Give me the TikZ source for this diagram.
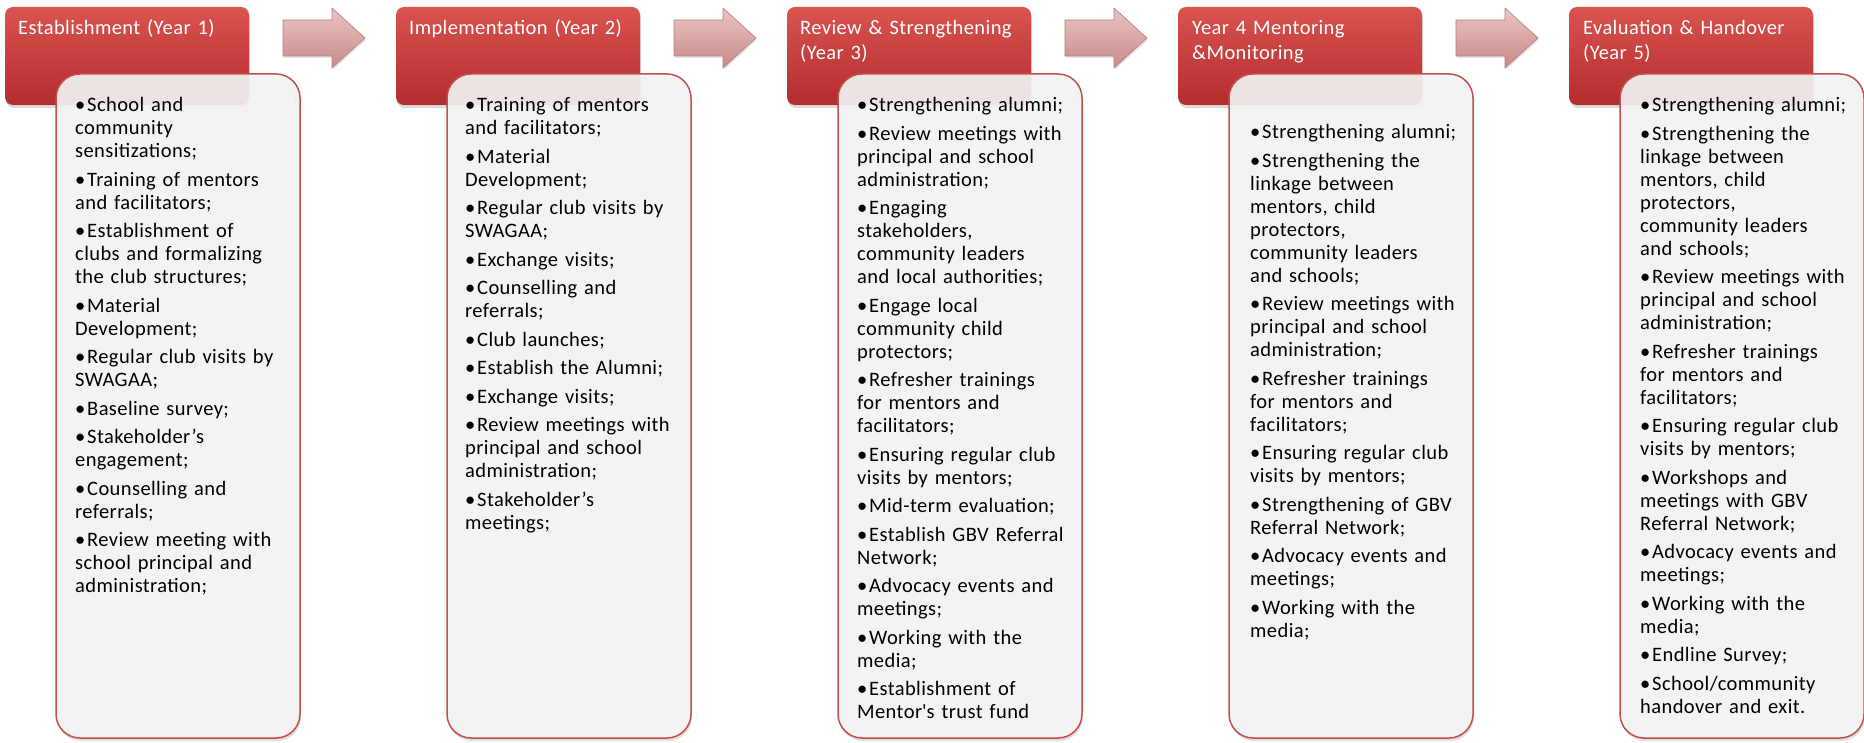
\documentclass[tikz,border=0pt]{standalone}
\usepackage{fontspec}
\setmainfont{Carlito}[LetterSpace=2.0]
\usetikzlibrary{positioning,shadows}

\definecolor{hdtop}{HTML}{D9534F}
\definecolor{hdbot}{HTML}{B32D2F}
\definecolor{cardfill}{HTML}{F5F5F5}
\definecolor{cardline}{HTML}{C0504D}
\definecolor{arrtop}{HTML}{EBC4C4}
\definecolor{arrbot}{HTML}{C88A8A}
\definecolor{arrline}{HTML}{B77B7B}

\newcommand{\itemgap}{5.5pt}
\newcommand{\itm}[1]{\makebox[12pt][l]{\textbullet}\hangindent=12pt\hangafter=1 #1\setlength{\parskip}{\itemgap}\par}

\tikzset{
  header/.style={anchor=north west, minimum width=244pt, minimum height=98pt, outer sep=0pt,
    rounded corners=8pt, top color=hdtop, bottom color=hdbot,
    drop shadow={shadow xshift=1pt, shadow yshift=-3pt, opacity=0.3}},
  card/.style={anchor=north west, minimum width=244pt, minimum height=664pt, outer sep=0pt,
    rounded corners=24pt, draw=cardline, line width=1.5pt, fill=cardfill, fill opacity=0.9,
    drop shadow={shadow xshift=1pt, shadow yshift=-3pt, opacity=0.25}},
  headtext/.style={anchor=base west, inner sep=0pt, text width=228pt, text=white,
    font=\fontsize{20.5}{24.5}\selectfont},
  list/.style={anchor=base west, inner sep=0pt, text width=236pt,
    font=\fontsize{20.5}{23}\selectfont},
  blockarrow/.style={top color=arrtop, bottom color=arrbot, draw=arrline, line width=0.6pt,
    drop shadow={shadow xshift=1pt, shadow yshift=-2pt, opacity=0.2}}
}

\begin{document}
\begin{tikzpicture}[x=1pt,y=1pt]
  \useasboundingbox (0,0) rectangle (1864,-743);

  % year headers
  \node[header] (h1) at (5,-7) {};
  \node[header, right=147pt of h1] (h2) {};
  \node[header, right=147pt of h2] (h3) {};
  \node[header, right=147pt of h3] (h4) {};
  \node[header, right=147pt of h4] (h5) {};

  % arrows between the years
  \foreach \i in {1,...,4}
    \path[blockarrow] ([xshift=34pt,yshift=36pt]h\i.east) -- ++(49,0) -- ++(0,12)
      -- ++(33,-30) -- ++(-33,-30) -- ++(0,12) -- ++(-49,0) -- cycle;

  % activity cards
  \node[card] (b1) at ([xshift=51pt,yshift=-67pt]h1.north west) {};
  \node[card] (b2) at ([xshift=51pt,yshift=-67pt]h2.north west) {};
  \node[card] (b3) at ([xshift=51pt,yshift=-67pt]h3.north west) {};
  \node[card] (b4) at ([xshift=51pt,yshift=-67pt]h4.north west) {};
  \node[card] (b5) at ([xshift=51pt,yshift=-67pt]h5.north west) {};

  % header titles
  \node[headtext] (t1) at ([xshift=13pt,yshift=-28pt]h1.north west) {Establishment (Year 1)};
  \node[headtext] (t2) at ([xshift=13pt,yshift=-28pt]h2.north west) {Implementation (Year 2)};
  \node[headtext] (t3) at ([xshift=13pt,yshift=-28pt]h3.north west) {Review \& Strengthening\\(Year 3)};
  \node[headtext] (t4) at ([xshift=14pt,yshift=-28pt]h4.north west) {Year 4 Mentoring\\\&Monitoring};
  \node[headtext] (t5) at ([xshift=14pt,yshift=-28pt]h5.north west) {Evaluation \& Handover\\(Year 5)};

  % activities
  \node[list] (l1) at ([xshift=19pt,yshift=-38pt]b1.north west) {%
    \itm{School and\\community\\sensitizations;}
    \itm{Training of mentors\\and facilitators;}
    \itm{Establishment of\\clubs and formalizing\\the club structures;}
    \itm{Material\\Development;}
    \itm{Regular club visits by\\SWAGAA;}
    \itm{Baseline survey;}
    \itm{Stakeholder’s\\engagement;}
    \itm{Counselling and\\referrals;}
    \itm{Review meeting with\\school principal and\\administration;}};
  \node[list] (l2) at ([xshift=18pt,yshift=-38pt]b2.north west) {%
    \itm{Training of mentors\\and facilitators;}
    \itm{Material\\Development;}
    \itm{Regular club visits by\\SWAGAA;}
    \itm{Exchange visits;}
    \itm{Counselling and\\referrals;}
    \itm{Club launches;}
    \itm{Establish the Alumni;}
    \itm{Exchange visits;}
    \itm{Review meetings with\\principal and school\\administration;}
    \itm{Stakeholder’s\\meetings;}};
  \node[list] (l3) at ([xshift=19pt,yshift=-38pt]b3.north west) {%
    \itm{Strengthening alumni;}
    \itm{Review meetings with\\principal and school\\administration;}
    \itm{Engaging\\stakeholders,\\community leaders\\and local authorities;}
    \itm{Engage local\\community child\\protectors;}
    \itm{Refresher trainings\\for mentors and\\facilitators;}
    \itm{Ensuring regular club\\visits by mentors;}
    \itm{Mid-term evaluation;}
    \itm{Establish GBV Referral\\Network;}
    \itm{Advocacy events and\\meetings;}
    \itm{Working with the\\media;}
    \itm{Establishment of\\Mentor\textquotesingle s trust fund}};
  \node[list] (l4) at ([xshift=21pt,yshift=-65pt]b4.north west) {%
    \itm{Strengthening alumni;}
    \itm{Strengthening the\\linkage between\\mentors, child\\protectors,\\community leaders\\and schools;}
    \itm{Review meetings with\\principal and school\\administration;}
    \itm{Refresher trainings\\for mentors and\\facilitators;}
    \itm{Ensuring regular club\\visits by mentors;}
    \itm{Strengthening of GBV\\Referral Network;}
    \itm{Advocacy events and\\meetings;}
    \itm{Working with the\\media;}};
  \node[list] (l5) at ([xshift=20pt,yshift=-38pt]b5.north west) {%
    \itm{Strengthening alumni;}
    \itm{Strengthening the\\linkage between\\mentors, child\\protectors,\\community leaders\\and schools;}
    \itm{Review meetings with\\principal and school\\administration;}
    \itm{Refresher trainings\\for mentors and\\facilitators;}
    \itm{Ensuring regular club\\visits by mentors;}
    \itm{Workshops and\\meetings with GBV\\Referral Network;}
    \itm{Advocacy events and\\meetings;}
    \itm{Working with the\\media;}
    \itm{Endline Survey;}
    \itm{School/community\\handover and exit.}};
\end{tikzpicture}
\end{document}
